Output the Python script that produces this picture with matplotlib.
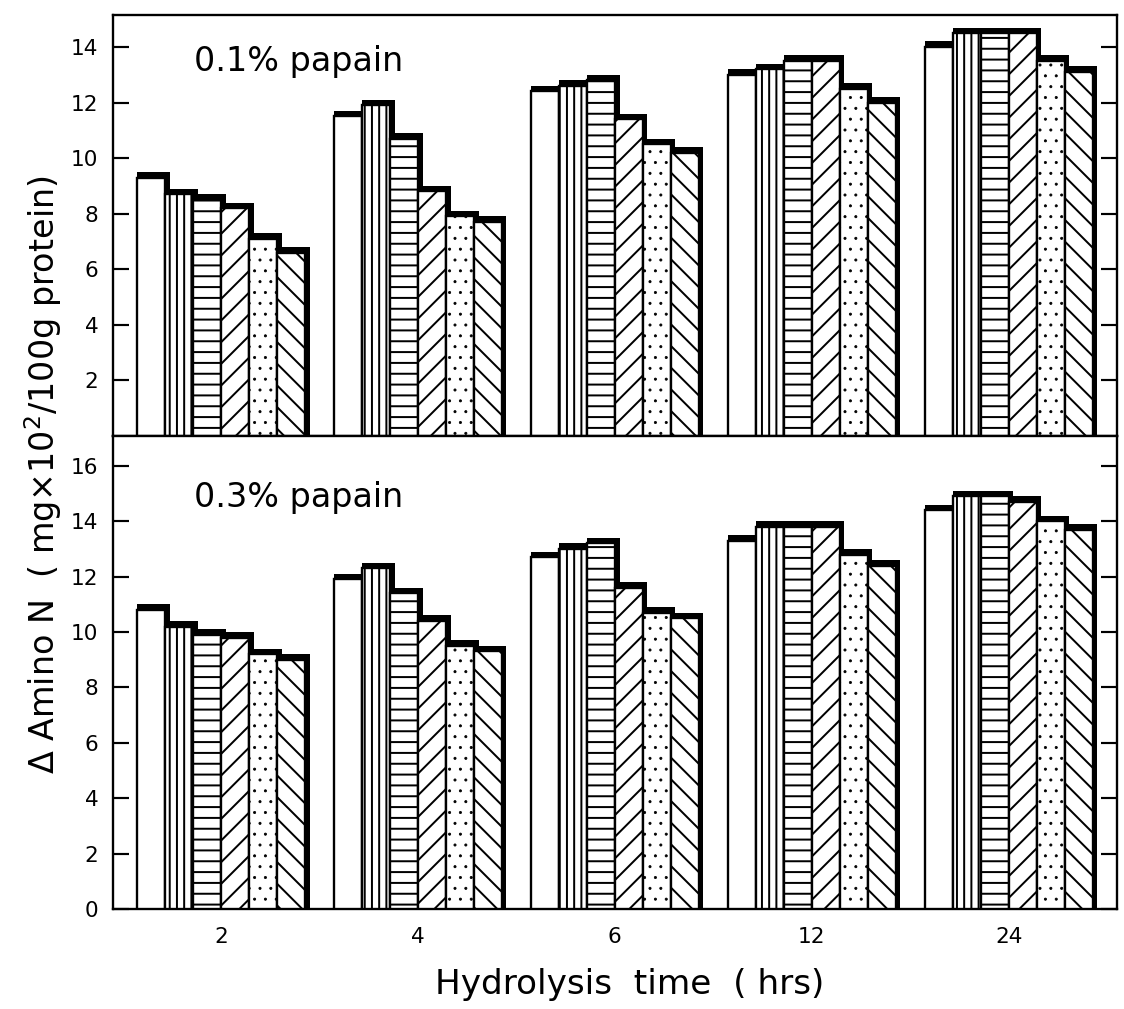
import numpy as np
import matplotlib
matplotlib.use('Agg')
import matplotlib.pyplot as plt

plt.rcParams['font.family'] = ['DejaVu Sans']
plt.rcParams['hatch.linewidth'] = 1.1

# hydrolysis time groups
times = ['2', '4', '6', '12', '24']

# 0.1% papain, six samples per time
low_s1 = [9.3, 11.5, 12.4, 13.0, 14.0]
low_s2 = [8.7, 11.9, 12.6, 13.2, 14.5]
low_s3 = [8.5, 10.7, 12.8, 13.5, 14.5]
low_s4 = [8.2, 8.8, 11.4, 13.5, 14.5]
low_s5 = [7.1, 7.9, 10.5, 12.5, 13.5]
low_s6 = [6.6, 7.7, 10.2, 12.0, 13.1]

# 0.3% papain
high_s1 = [10.8, 11.9, 12.7, 13.3, 14.4]
high_s2 = [10.2, 12.3, 13.0, 13.8, 14.9]
high_s3 = [9.9, 11.4, 13.2, 13.8, 14.9]
high_s4 = [9.8, 10.4, 11.6, 13.8, 14.7]
high_s5 = [9.2, 9.5, 10.7, 12.8, 14.0]
high_s6 = [9.0, 9.3, 10.5, 12.4, 13.7]

hatches = ['', '|||', '--', '//', '..', '\\\\']

fig = plt.figure(figsize=(1124 / 130, 1009 / 130), dpi=130)
ax1 = fig.add_axes([0.1005, 0.5679, 0.8933, 0.4172])
ax2 = fig.add_axes([0.1005, 0.0991, 0.8933, 0.4688])

x = np.arange(len(times))
w = 0.142
dx = 0.024


def draw(ax, series, ymax, ticks, title, ty):
    dy = 0.2
    for k, vals in enumerate(series):
        pos = x + (k - 2.5) * w
        vals = np.array(vals)
        # shadow band on top and right side
        ax.bar(pos + dx / 2, vals + dy, width=w + dx, color='black',
               edgecolor='black', linewidth=0, zorder=2 * k + 2)
        hlw = 0.45 if '.' in hatches[k] else 1.1
        with plt.rc_context({'hatch.linewidth': hlw}):
            bars = ax.bar(pos, vals, width=w, color='white', edgecolor='black',
                          hatch=hatches[k], linewidth=1.3, zorder=2 * k + 3)
        for b in bars:
            if hasattr(b, 'set_hatch_linewidth'):
                b.set_hatch_linewidth(hlw)
    ax.set_xlim(-0.548, 4.55)
    ax.set_ylim(0, ymax)
    ax.set_yticks(ticks)
    ax.tick_params(axis='y', direction='in', length=9, width=1.2,
                   right=True, labelsize=12, pad=8)
    ax.tick_params(axis='x', length=0)
    for s in ax.spines.values():
        s.set_linewidth(1.3)
    ax.text(0.081, ty, title, transform=ax.transAxes,
            fontsize=18.5, va='center')


draw(ax1, [low_s1, low_s2, low_s3, low_s4, low_s5, low_s6], 15.15,
     [2, 4, 6, 8, 10, 12, 14], '0.1% papain', 0.89)
ax1.set_xticks([])
draw(ax2, [high_s1, high_s2, high_s3, high_s4, high_s5, high_s6], 17.08,
     [0, 2, 4, 6, 8, 10, 12, 14, 16], '0.3% papain', 0.87)
ax2.set_xticks(x)
ax2.set_xticklabels(times, fontsize=12)
ax2.tick_params(axis='x', pad=10)

fig.text(0.56, 0.024, 'Hydrolysis  time  ( hrs)', fontsize=19,
         ha='center', va='center')
fig.text(0.038, 0.53,
         r'$\Delta$ Amino N  ( mg$\times$10$^2$/100g protein)',
         fontsize=18.5, rotation=90, ha='center', va='center')

fig.savefig('out.png', dpi=130)
